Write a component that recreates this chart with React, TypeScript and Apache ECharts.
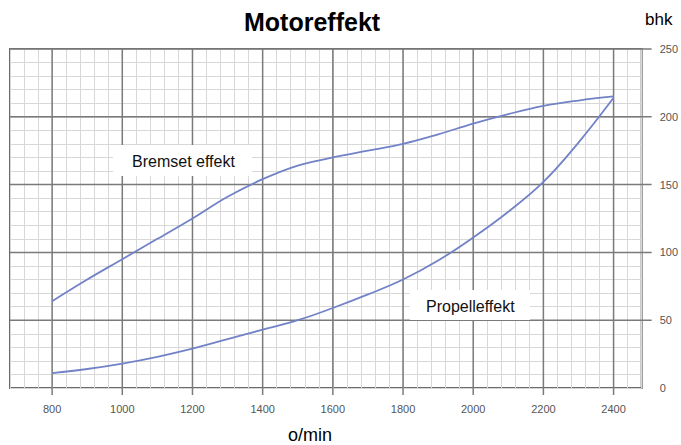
import React, { useEffect, useRef } from "react";
import * as echarts from "echarts";

const rpm = [800, 900, 1000, 1100, 1200, 1300, 1400, 1500, 1600, 1700, 1800, 1900, 2000, 2100, 2200, 2300, 2400];
const bremset = [64, 80, 95, 110, 125, 141, 154, 164, 170, 175, 180, 187, 195, 202, 208, 212, 215];
const propell = [11, 14, 18, 23, 29, 36, 43, 50, 59, 69, 80, 94, 111, 130, 152, 181, 214];
const majorX = [800, 1000, 1200, 1400, 1600, 1800, 2000, 2200, 2400];
const majorY = [50, 100, 150, 200, 250];
const xMin = 680;
const xMax = 2480;
const yMin = 0;
const yMax = 250;

const FONT = "'Liberation Sans', Arial, sans-serif";
const LINE_COLOR = "#7282c6";

export default function App() {
  const ref = useRef<HTMLDivElement>(null);
  useEffect(() => {
    if (!ref.current) return;
    const chart = echarts.init(ref.current, null, { renderer: "svg" });
    chart.setOption({
      animation: false,
      backgroundColor: "#ffffff",
      grid: {
        left: 10,
        top: 49,
        right: 39,
        bottom: 57,
        show: true,
        borderColor: "#6a6a6a",
        borderWidth: 2,
      },
      xAxis: {
        type: "value",
        min: xMin,
        max: xMax,
        interval: 40,
        axisLine: { show: false },
        axisTick: { show: false },
        splitLine: { show: true, lineStyle: { color: "#d8d8d8", width: 1 } },
        axisLabel: {
          margin: 15,
          color: "#555",
          fontSize: 11,
          fontFamily: FONT,
          formatter: (v: number) =>
            v >= 800 && v <= 2400 && (v - 800) % 200 === 0 ? String(v) : "",
        },
      },
      yAxis: {
        type: "value",
        position: "right",
        min: yMin,
        max: yMax,
        interval: 10,
        axisLine: { show: false },
        axisTick: { show: false },
        splitLine: { show: true, lineStyle: { color: "#d8d8d8", width: 1 } },
        axisLabel: {
          margin: 18,
          color: "#555",
          fontSize: 11,
          fontFamily: FONT,
          padding: [0, 0, 8, 0],
          formatter: (v: number) => (v % 50 === 0 ? String(v) : ""),
        },
      },
      series: [
        {
          type: "custom",
          clip: false,
          silent: true,
          z: 1,
          data: majorX.map((v) => [v, yMin]),
          renderItem: (params: any, api: any) => {
            const cs = params.coordSys;
            const x = api.coord([api.value(0), yMin])[0];
            return {
              type: "line",
              shape: { x1: x, y1: cs.y, x2: x, y2: cs.y + cs.height + 7 },
              style: { stroke: "#7a7a7a", lineWidth: 1.5 },
            };
          },
        },
        {
          type: "custom",
          clip: false,
          silent: true,
          z: 1,
          data: majorY.map((v) => [xMin, v]),
          renderItem: (params: any, api: any) => {
            const cs = params.coordSys;
            const y = api.coord([xMin, api.value(1)])[1];
            return {
              type: "line",
              shape: { x1: cs.x, y1: y, x2: cs.x + cs.width + 10, y2: y },
              style: { stroke: "#7a7a7a", lineWidth: 1.5 },
            };
          },
        },
        {
          name: "Bremset effekt",
          type: "line",
          smooth: 0.4,
          symbol: "none",
          z: 3,
          data: rpm.map((r, i) => [r, bremset[i]]),
          lineStyle: { color: LINE_COLOR, width: 1.8 },
        },
        {
          name: "Propelleffekt",
          type: "line",
          smooth: 0.4,
          symbol: "none",
          z: 3,
          data: rpm.map((r, i) => [r, propell[i]]),
          lineStyle: { color: LINE_COLOR, width: 1.8 },
        },
      ],
      graphic: [
        {
          type: "text",
          left: 244,
          top: 9,
          style: { text: "Motoreffekt", font: `bold 25px ${FONT}`, fill: "#000" },
        },
        {
          type: "text",
          left: 645,
          top: 11,
          style: { text: "bhk", font: `17px ${FONT}`, fill: "#000" },
        },
        {
          type: "text",
          left: 288,
          top: 426,
          style: { text: "o/min", font: `18px ${FONT}`, fill: "#000" },
        },
        {
          type: "rect",
          z: 100,
          shape: { x: 113, y: 145, width: 139, height: 31 },
          style: { fill: "#ffffff", stroke: "none" },
        },
        {
          type: "text",
          z: 101,
          x: 132,
          y: 161,
          style: { text: "Bremset effekt", font: `16px ${FONT}`, fill: "#111", textVerticalAlign: "middle" },
        },
        {
          type: "rect",
          z: 100,
          shape: { x: 410, y: 290, width: 120, height: 30 },
          style: { fill: "#ffffff", stroke: "none" },
        },
        {
          type: "text",
          z: 101,
          x: 426,
          y: 306,
          style: { text: "Propelleffekt", font: `16px ${FONT}`, fill: "#111", textVerticalAlign: "middle" },
        },
      ],
    });
    return () => chart.dispose();
  }, []);
  return (
    <div
      ref={ref}
      style={{ position: "absolute", left: 0, top: 0, width: 681, height: 445 }}
    />
  );
}
